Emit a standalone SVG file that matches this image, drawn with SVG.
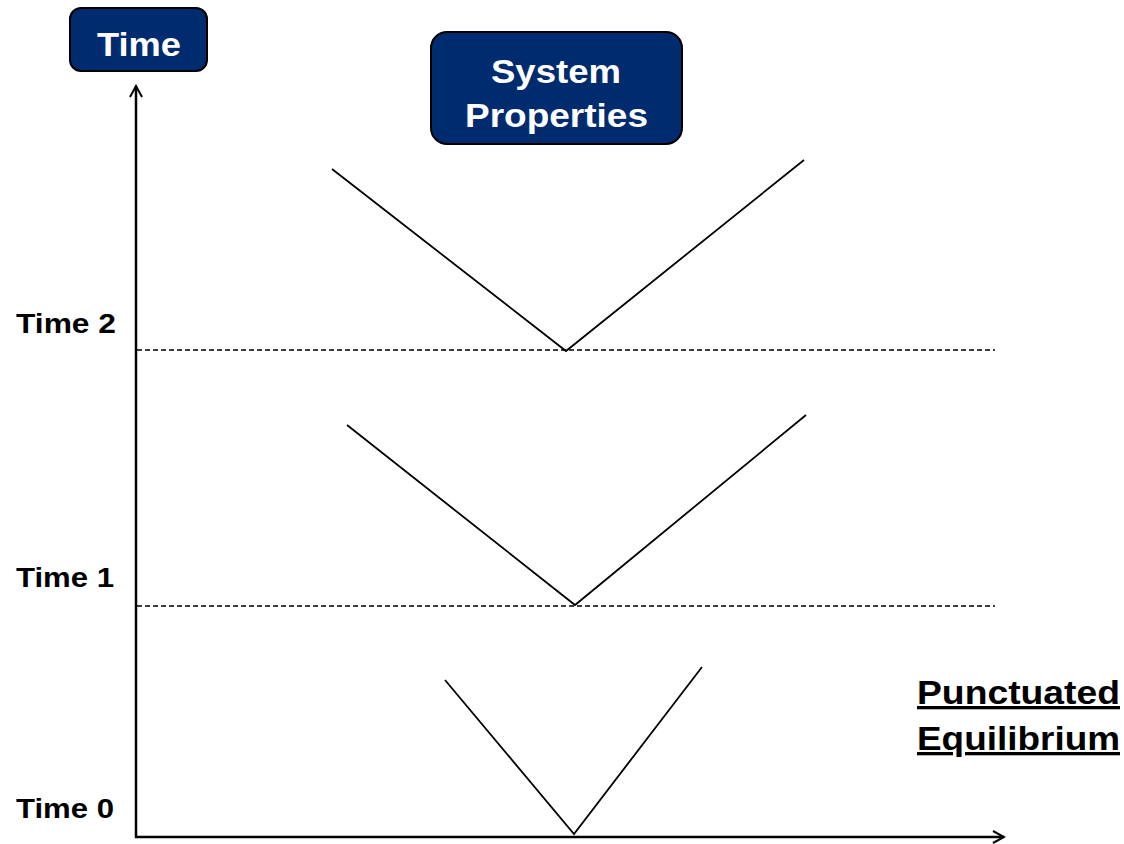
<svg xmlns="http://www.w3.org/2000/svg" width="1124" height="844" viewBox="0 0 1124 844">
<style>
.box{fill:#002b6e;stroke:#000;stroke-width:2}
.bt{font-family:"Liberation Sans",Arial,sans-serif;font-weight:bold;fill:#fff}
.lbl{font-family:"Liberation Sans",Arial,sans-serif;font-weight:bold;fill:#000;font-size:28px}
.ttl{font-family:"Liberation Sans",Arial,sans-serif;font-weight:bold;fill:#000;font-size:33px;text-decoration:underline}
.v{fill:none;stroke:#000;stroke-width:1.8}
.dash{stroke:#000;stroke-width:1.3;stroke-dasharray:5,3}
.axis{stroke:#000;stroke-width:2.5;fill:none}
</style>
<defs>
<marker id="arr" markerWidth="14" markerHeight="14" refX="12" refY="7" orient="auto" markerUnits="userSpaceOnUse">
<path d="M1,1 L12,7 L1,13" fill="none" stroke="#000" stroke-width="2"/>
</marker>
</defs>
<g id="time-box">
<rect class="box" x="70" y="8" width="137" height="63" rx="11"/>
<text class="bt" x="97" y="56" font-size="34" textLength="84" lengthAdjust="spacingAndGlyphs">Time</text>
</g>
<g id="system-properties">
<rect class="box" x="431" y="32" width="251" height="112" rx="16"/>
<text class="bt" x="491" y="83" font-size="34" textLength="130" lengthAdjust="spacingAndGlyphs">System</text>
<text class="bt" x="465" y="127" font-size="34" textLength="183" lengthAdjust="spacingAndGlyphs">Properties</text>
</g>
<g id="connectors">
<line class="axis" x1="136" y1="838" x2="136" y2="86" marker-end="url(#arr)"/>
<line class="axis" x1="135" y1="837" x2="1004" y2="837" marker-end="url(#arr)"/>
<line class="dash" x1="137" y1="350" x2="995" y2="350"/>
<line class="dash" x1="137" y1="606" x2="995" y2="606"/>
<polyline class="v" points="332,169 566,351 804,160"/>
<polyline class="v" points="347,425 575,605 806,415"/>
<polyline class="v" points="445,680 574,834 702,667"/>
</g>
<g id="labels">
<text class="lbl" x="16" y="333" textLength="100" lengthAdjust="spacingAndGlyphs">Time 2</text>
<text class="lbl" x="16" y="587" textLength="98" lengthAdjust="spacingAndGlyphs">Time 1</text>
<text class="lbl" x="16" y="818" textLength="98" lengthAdjust="spacingAndGlyphs">Time 0</text>
</g>
<g id="title">
<text class="ttl" x="917" y="704" textLength="203" lengthAdjust="spacingAndGlyphs">Punctuated</text>
<text class="ttl" x="917" y="750" textLength="203" lengthAdjust="spacingAndGlyphs">Equilibrium</text>
</g>
</svg>
